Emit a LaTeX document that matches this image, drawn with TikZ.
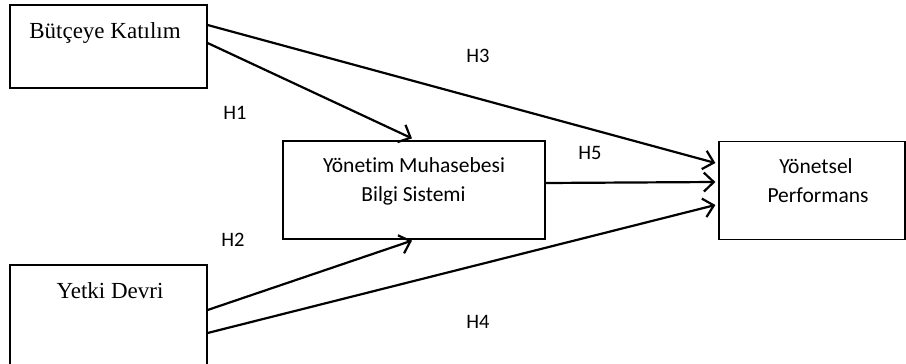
\documentclass[tikz,border=0pt]{standalone}
\usepackage{fontspec}
\setmainfont{Liberation Serif}
\newfontfamily\calib[Ligatures=NoCommon]{Carlito}
\usetikzlibrary{arrows.meta}
\begin{document}
\begin{tikzpicture}[x=1pt,y=-1pt,
  box/.style={draw, line width=1.2pt, inner sep=0pt},
  serif/.style={font=\fontsize{23}{26}\selectfont, anchor=base, inner sep=0pt},
  sans/.style={font=\calib\fontsize{21.5}{25}\selectfont, anchor=base, inner sep=0pt},
  hlab/.style={font=\calib\fontsize{20.5}{24}\selectfont, inner sep=0pt},
  arr/.style={line width=2.2pt, -{Straight Barb[length=10pt, width=19pt, line width=2.2pt]}}]
\useasboundingbox (0,0) rectangle (906,364);
% boxes
\node[box, minimum width=197pt, minimum height=83pt] (bk) at (108.5,46.5) {};
\node[box, minimum width=197pt, minimum height=105pt] (yd) at (108.5,317.5) {};
\node[box, minimum width=262pt, minimum height=98pt] (mid) at (414,190) {};
\node[box, minimum width=186pt, minimum height=98pt] (pf) at (812,190.5) {};
% texts
\node[serif] (t1) at (105,38) {Bütçeye Katılım};
\node[serif] (t2) at (110,298) {Yetki Devri};
\node[sans] (t3) at (414,172) {Yönetim Muhasebesi};
\node[sans] (t4) at (413.5,201) {Bilgi Sistemi};
\node[sans] (t5) at (816,173) {Yönetsel};
\node[sans] (t6) at (818,202) {Performans};
% hypothesis labels
\node[hlab] (h1) at (235,113) {H1};
\node[hlab] (h2) at (233,240) {H2};
\node[hlab] (h3) at (478,56) {H3};
\node[hlab] (h4) at (478,322) {H4};
\node[hlab] (h5) at (590,153) {H5};
% arrows
\draw[arr] ([yshift=3.5pt]bk.east) -- ([xshift=-2pt,yshift=2pt]mid.north);
\draw[arr] ([yshift=21.5pt]bk.east) -- ([xshift=-3pt,yshift=27.5pt]pf.west);
\draw[arr] ([yshift=7pt]mid.east) -- ([xshift=-3pt,yshift=8.5pt]pf.west);
\draw[arr] ([yshift=7.5pt]yd.east) -- ([xshift=-2pt,yshift=-1pt]mid.south);
\draw[arr] ([yshift=-15.5pt]yd.east) -- ([xshift=-3pt,yshift=-14.5pt]pf.west);
\end{tikzpicture}
\end{document}
